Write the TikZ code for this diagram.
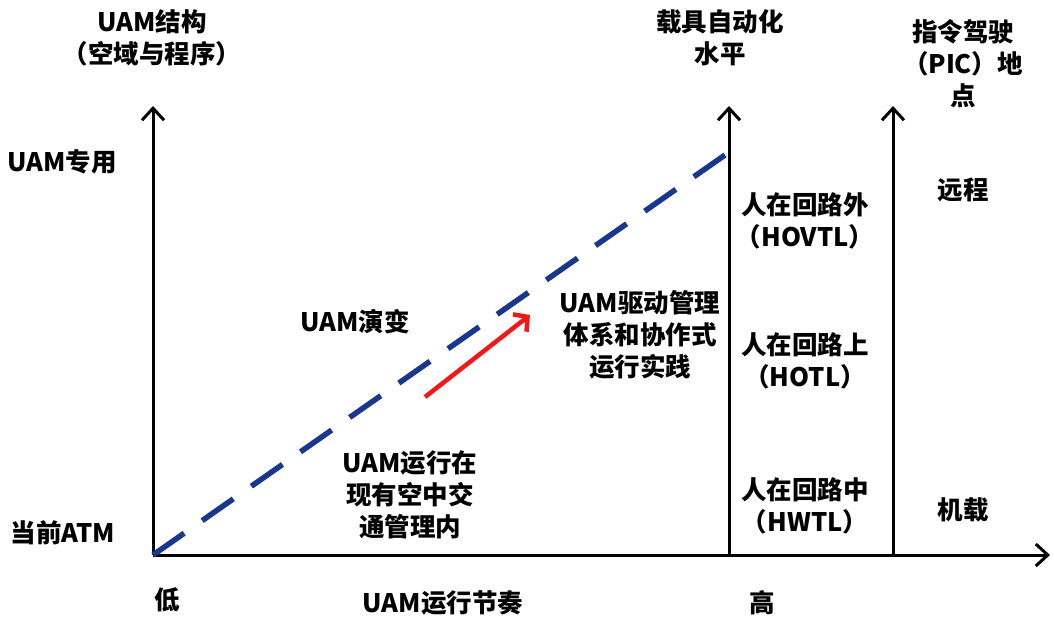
\documentclass[tikz,border=0pt]{standalone}
\usepackage{fontspec}
\setmainfont{Noto Sans CJK SC}
\usetikzlibrary{arrows.meta}
\definecolor{dashblue}{RGB}{25,55,140}
\definecolor{arrred}{RGB}{240,25,25}
\begin{document}
\begin{tikzpicture}[x=1pt,y=-1pt,
  lbl/.style={font=\bfseries\fontsize{25.5}{32}\selectfont, align=center, inner sep=0pt},
  axis/.style={line width=3pt, -{Straight Barb[length=12pt,width=22pt,line width=3pt]}}]
\useasboundingbox (0,0) rectangle (1054,618);
% coordinates
\coordinate (O) at (153,555);
\coordinate (Xend) at (1050,555);
\coordinate (Ytop) at (153,106);
\coordinate (M0) at (729,555);
\coordinate (Mtop) at (729,106);
\coordinate (R0) at (893,555);
\coordinate (Rtop) at (893,106);
\coordinate (Dend) at (735,148);
\coordinate (Rs) at (425,397);
\coordinate (Re) at (530,315);
% axes
\draw[axis] (O) -- (Xend);
\draw[axis] (O) -- (Ytop);
\draw[axis] (M0) -- (Mtop);
\draw[axis] (R0) -- (Rtop);
% dashed evolution line
\draw[dashblue, line width=5.5pt, dash pattern=on 38pt off 22pt] (O) -- (Dend);
% red arrow
\draw[arrred, line width=4.5pt, -{Straight Barb[length=10pt,width=22pt,line width=4.5pt]}] (Rs) -- (Re);
% labels
\node[lbl] (yl) at (152,38) {UAM结构\\（空域与程序）};
\node[lbl] (uamz) at (62,162) {UAM专用};
\node[lbl] (atm) at (63,533) {当前ATM};
\node[lbl] (low) at (167,600) {低};
\node[lbl] (xl) at (443,603) {UAM运行节奏};
\node[lbl] (high) at (762,603) {高};
\node[lbl] (ml) at (720,38) {载具自动化\\水平};
\node[lbl] (rl) at (963,64) {指令驾驶\\（PIC）地\\点};
\node[lbl] (far) at (963,190) {远程};
\node[lbl] (onb) at (963,510) {机载};
\node[lbl] (hovtl) at (805,221) {人在回路外\\（HOVTL）};
\node[lbl] (hotl) at (805,361) {人在回路上\\（HOTL）};
\node[lbl] (hwtl) at (805,506) {人在回路中\\（HWTL）};
\node[lbl] (evo) at (355,322) {UAM演变};
\node[lbl] (drive) at (640,335) {UAM驱动管理\\体系和协作式\\运行实践};
\node[lbl] (cur) at (410,495) {UAM运行在\\现有空中交\\通管理内};
\end{tikzpicture}
\end{document}
